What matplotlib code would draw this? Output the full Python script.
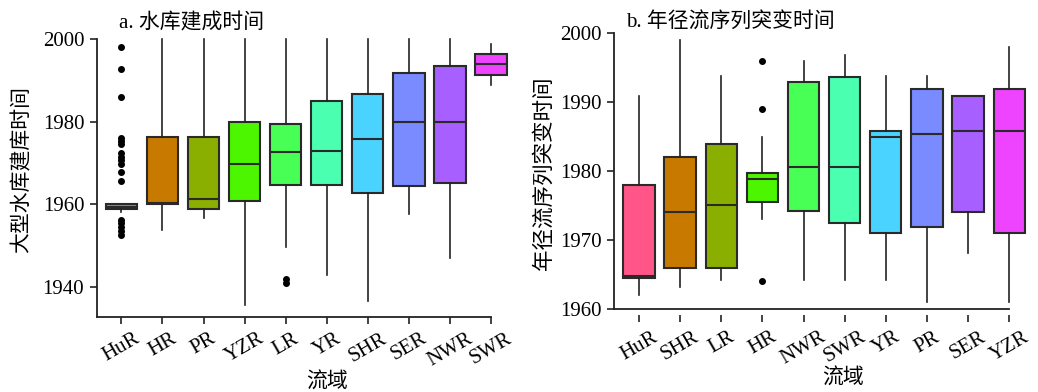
import matplotlib
matplotlib.use('Agg')
import matplotlib.pyplot as plt

plt.rcParams['font.family'] = ['Liberation Serif', 'Noto Sans CJK SC', 'DejaVu Sans']
plt.rcParams['axes.unicode_minus'] = False

colors = ['#FF5588', '#C87A00', '#8BAF00', '#4CF600', '#48FF55',
          '#4BFFB0', '#4AD3FF', '#7A8AFF', '#A75FFF', '#EE44FF']

# a. 水库建成时间
a_names = ['HuR', 'HR', 'PR', 'YZR', 'LR', 'YR', 'SHR', 'SER', 'NWR', 'SWR']
a_q1 = [1958.8, 1960.0, 1958.7, 1960.7, 1964.7, 1964.7, 1962.7, 1964.4, 1965.1, 1991.2]
a_med = [1959.3, 1960.3, 1961.3, 1969.8, 1972.5, 1972.9, 1975.8, 1980.0, 1980.0, 1993.9]
a_q3 = [1960.1, 1976.3, 1976.3, 1979.8, 1979.5, 1984.9, 1986.6, 1991.8, 1993.4, 1996.4]
a_lo = [1958.0, 1953.6, 1956.6, 1935.5, 1949.7, 1942.8, 1936.6, 1957.6, 1946.9, 1988.8]
a_hi = [1960.1, 2000.0, 2000.0, 2000.0, 2000.0, 2000.0, 2000.0, 2000.0, 2000.0, 1998.9]
a_fliers = [[1998, 1992.8, 1986, 1976, 1975.3, 1974.6, 1972.3, 1971.4, 1970.6, 1969.8,
             1967.8, 1965.6, 1956.2, 1955.3, 1954.5, 1953.5, 1952.6],
            [], [], [], [1941.8, 1940.8], [], [], [], [], []]

# b. 年径流序列突变时间
b_names = ['HuR', 'SHR', 'LR', 'HR', 'NWR', 'SWR', 'YR', 'PR', 'SER', 'YZR']
b_q1 = [1964.5, 1966.0, 1966.0, 1975.5, 1974.2, 1972.4, 1971.0, 1971.9, 1974.0, 1971.0]
b_med = [1964.8, 1974.0, 1975.1, 1978.8, 1980.5, 1980.5, 1984.9, 1985.4, 1985.8, 1985.8]
b_q3 = [1977.9, 1982.0, 1983.9, 1979.7, 1992.9, 1993.6, 1985.8, 1991.9, 1990.9, 1991.9]
b_lo = [1962.0, 1963.2, 1964.2, 1973.0, 1964.2, 1964.2, 1964.2, 1961.0, 1968.1, 1961.0]
b_hi = [1990.9, 1999.0, 1993.7, 1984.9, 1995.9, 1996.8, 1993.7, 1993.7, 1990.9, 1997.9]
b_fliers = [[], [], [], [1995.9, 1988.9, 1964.1], [], [], [], [], [], []]


def stats(q1, med, q3, lo, hi, fl):
    out = []
    for i in range(len(q1)):
        out.append({'q1': q1[i], 'med': med[i], 'q3': q3[i],
                    'whislo': lo[i], 'whishi': hi[i], 'fliers': fl[i]})
    return out


def draw(ax, st, names, offset=False):
    bp = ax.bxp(st, positions=range(len(st)), widths=0.76, patch_artist=True,
                showcaps=False,
                boxprops=dict(edgecolor='#2a2a2a', linewidth=1.5),
                medianprops=dict(color='#2a2a2a', linewidth=1.5),
                whiskerprops=dict(color='#222222', linewidth=1.2),
                flierprops=dict(marker='o', markerfacecolor='black',
                                markeredgecolor='black', markersize=4))
    for patch, c in zip(bp['boxes'], colors):
        patch.set_facecolor(c)
    for key in ['boxes', 'medians', 'whiskers', 'fliers']:
        for art in bp[key]:
            art.set_clip_on(False)
    for s in ['top', 'right']:
        ax.spines[s].set_visible(False)
    for s in ['left', 'bottom']:
        ax.spines[s].set_linewidth(1.3)
        ax.spines[s].set_color('#222222')
    if offset:
        # ticks detached from the axis line, as in the original
        ax.spines['bottom'].set_position(('outward', 4.5))
        ax.spines['bottom'].set_visible(False)
    ax.set_xlim(-0.6, 9)
    ax.set_xticks(range(len(names)))
    ax.set_xticklabels(names, rotation=30, ha='center', fontsize=15)
    ax.tick_params(axis='both', length=5, width=1.2, color='#222222', pad=4)
    ax.tick_params(axis='y', labelsize=15)


fig = plt.figure(figsize=(10.38, 3.92), dpi=100)

ax1 = fig.add_axes([0.0932, 0.1921, 0.3799, 0.7084])
draw(ax1, stats(a_q1, a_med, a_q3, a_lo, a_hi, a_fliers), a_names)
ax1.set_ylim(1932.7, 2000)
ax1.set_yticks([1940, 1960, 1980, 2000])
ax1.set_ylabel('大型水库建库时间', fontsize=15)
ax1.yaxis.set_label_coords(-0.163, 0.53)
ax1.set_xlabel('流域', fontsize=15)
ax1.xaxis.set_label_coords(0.584, -0.2)
ax1.text(0.057, 1.056, 'a. 水库建成时间', transform=ax1.transAxes,
         fontsize=15, va='center', ha='left')

ax2 = fig.add_axes([0.5918, 0.2117, 0.3805, 0.7048])
draw(ax2, stats(b_q1, b_med, b_q3, b_lo, b_hi, b_fliers), b_names, offset=True)
ax2.set_ylim(1960, 2000)
ax2.set_yticks([1960, 1970, 1980, 1990, 2000])
ax2.axhline(1960, color='#222222', linewidth=1.3, clip_on=False)
ax2.set_ylabel('年径流序列突变时间', fontsize=15.5)
ax2.yaxis.set_label_coords(-0.152, 0.49)
ax2.set_xlabel('流域', fontsize=15)
ax2.xaxis.set_label_coords(0.579, -0.215)
ax2.text(0.03, 1.035, 'b. 年径流序列突变时间', transform=ax2.transAxes,
         fontsize=15, va='center', ha='left')

fig.savefig('out.png', dpi=100)
